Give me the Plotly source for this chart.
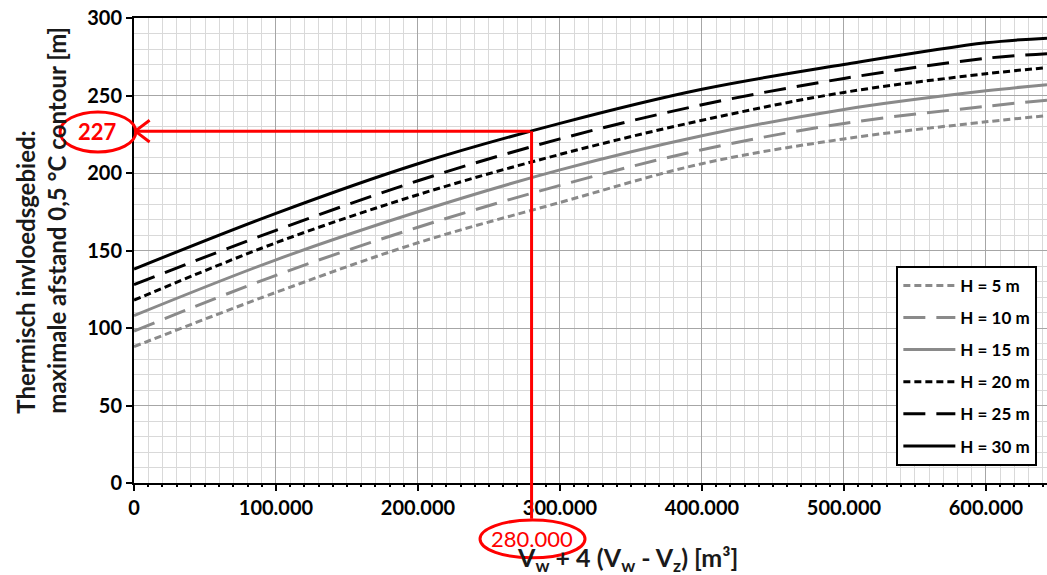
import plotly.graph_objects as go

# X values: V_w + 4 (V_w - V_z) [m3]
volume = [0, 100000, 200000, 300000, 400000, 500000, 600000, 643000]

# Thermal influence distance [m] per filter height H
h5 = [88, 123, 155, 181, 206, 222, 233, 237]
h10 = [98, 134, 165, 192, 215, 232, 243, 247]
h15 = [108, 144, 175, 202, 224, 241, 253, 257]
h20 = [118, 155, 186, 212, 234, 252, 264, 268]
h25 = [128, 163, 195, 222, 244, 261, 274, 277]
h30 = [138, 174, 206, 232, 254, 270, 284, 287]

series_names = ["H = 5 m", "H = 10 m", "H = 15 m", "H = 20 m", "H = 25 m", "H = 30 m"]
series_values = [h5, h10, h15, h20, h25, h30]
series_colors = ["#8a8a8a", "#8a8a8a", "#8a8a8a", "#000000", "#000000", "#000000"]
series_dash = ["7px,4px", "22px,11px", "solid", "7px,4px", "22px,11px", "solid"]

# Highlighted reading
read_x = 280000
read_y = 227
read_x_label = "280.000"
read_y_label = "227"

FONT = "Lato, 'Open Sans', sans-serif"

fig = go.Figure()
for name, vals, col, dash in zip(series_names, series_values, series_colors, series_dash):
    fig.add_trace(go.Scatter(
        x=volume, y=vals, name="<b>" + name + "</b>", mode="lines",
        line=dict(color=col, width=3, dash=dash, shape="spline", smoothing=1.0),
        legendgroup=name,
    ))

# red reading lines
fig.add_annotation(x=0, y=read_y, ax=read_x, ay=read_y, xref="x", yref="y",
                   axref="x", ayref="y", showarrow=True, arrowhead=0,
                   arrowwidth=3, arrowcolor="#ff0000", text="")
fig.add_annotation(x=read_x, y=read_y, ax=read_x, ay=-24, xref="x", yref="y",
                   axref="x", ayref="y", showarrow=True, arrowhead=0,
                   arrowwidth=3, arrowcolor="#ff0000", text="")
# open chevron arrow head at the y axis
fig.add_shape(type="path", xref="x", yref="y",
              path=(f"M {11000},{read_y + 7} L {900},{read_y} L {11000},{read_y - 7}"),
              line=dict(color="#ff0000", width=3), layer="above")

# ellipses with labels
fig.add_shape(type="circle", xref="paper", yref="paper",
              x0=-0.081, x1=0.002, y0=0.712, y1=0.798,
              line=dict(color="#ff0000", width=3), layer="above")
fig.add_annotation(x=-0.0395, y=0.755, xref="paper", yref="paper", showarrow=False,
                   xanchor="center", yanchor="middle",
                   text="<b>" + read_y_label + "</b>",
                   font=dict(family=FONT, size=22, color="#ff0000"))
fig.add_shape(type="circle", xref="paper", yref="paper",
              x0=0.379, x1=0.494, y0=-0.161, y1=-0.0796,
              line=dict(color="#ff0000", width=3), layer="above")

# axis titles
fig.add_annotation(x=0.54, y=-0.163, xref="paper", yref="paper", showarrow=False,
                   xanchor="center", yanchor="middle",
                   text="<b>V<sub>w</sub> + 4 (V<sub>w</sub> - V<sub>z</sub>) [m³]</b>",
                   font=dict(family=FONT, size=25, color="#1a1a1a"))
fig.add_annotation(x=read_x, y=-0.12, xref="x", yref="paper", showarrow=False,
                   xanchor="center", yanchor="middle",
                   text=read_x_label,
                   font=dict(family=FONT, size=22, color="#ff0000"))
fig.add_annotation(x=-0.102, y=0.566, xref="paper", yref="paper", showarrow=False,
                   xanchor="center", yanchor="middle",
                   textangle=-90, align="left",
                   text="<b>Thermisch invloedsgebied:<br>maximale afstand 0,5 °C contour [m]</b>",
                   font=dict(family=FONT, size=24, color="#1a1a1a"))

fig.update_layout(
    width=1047, height=575,
    margin=dict(l=134, r=0, t=18, b=92),
    plot_bgcolor="white", paper_bgcolor="white",
    separators=",.",
    font=dict(family=FONT, color="#000000"),
    legend=dict(x=0.835, y=0.467, xanchor="left", yanchor="top",
                bordercolor="#000000", borderwidth=2, bgcolor="white",
                font=dict(family=FONT, size=17, color="#000000"),
                tracegroupgap=7, itemwidth=52),
    showlegend=True,
)
fig.update_xaxes(
    range=[0, 643000], tickmode="linear", tick0=0, dtick=100000,
    tickformat=",d", tickprefix="<b>", ticksuffix="</b>",
    tickfont=dict(family=FONT, size=20, color="#000000"),
    showgrid=True, gridcolor="#a6a6a6", gridwidth=1,
    minor=dict(dtick=10000, showgrid=True, gridcolor="#d9d9d9", gridwidth=1,
               ticks="outside", ticklen=2, tickcolor="#000000"),
    showline=True, linecolor="#000000", linewidth=2, mirror=True,
    ticks="outside", ticklen=6, tickwidth=2, tickcolor="#000000",
    zeroline=False,
)
fig.update_yaxes(
    range=[0, 300], tickmode="linear", tick0=0, dtick=50,
    tickprefix="<b>", ticksuffix="</b>",
    tickfont=dict(family=FONT, size=20, color="#000000"),
    showgrid=True, gridcolor="#a6a6a6", gridwidth=1,
    minor=dict(dtick=10, showgrid=True, gridcolor="#d9d9d9", gridwidth=1),
    showline=True, linecolor="#000000", linewidth=2, mirror=False,
    ticks="outside", ticklen=6, tickwidth=2, tickcolor="#000000",
    zeroline=False,
)

fig.write_html("out.html")
